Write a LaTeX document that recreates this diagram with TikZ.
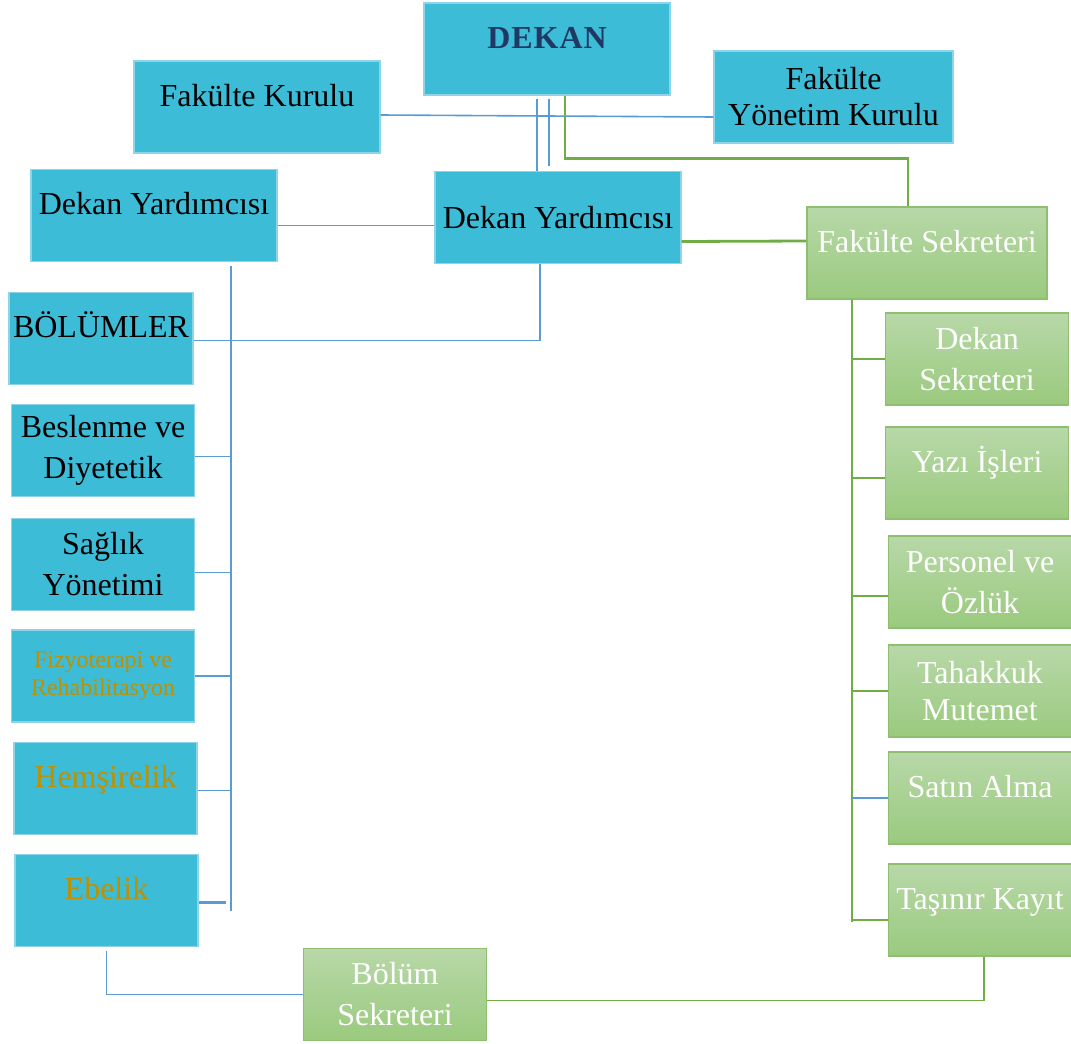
\documentclass[tikz,border=0pt]{standalone}
\usepackage{fontspec}
\setmainfont{Liberation Serif}
\usepackage{xcolor}
\usepackage{tikz}
\definecolor{cfill}{HTML}{3DBCD8}
\definecolor{cedge}{HTML}{8FD3E8}
\definecolor{gtop}{HTML}{B8D8A8}
\definecolor{gbot}{HTML}{9ACA7E}
\definecolor{gedge}{HTML}{8CC070}
\definecolor{lblue}{HTML}{5B9BD5}
\definecolor{lgreen}{HTML}{70AD47}
\definecolor{gold}{HTML}{BF9000}
\definecolor{navy}{HTML}{1F3864}
\tikzset{
  cbox/.style={draw=cedge, fill=cfill, line width=0.6pt, inner sep=2pt, minimum height=46pt, align=center, font=\fontsize{16}{20.5}\selectfont},
  gbox/.style={draw=gedge, top color=gtop, bottom color=gbot, line width=0.8pt, inner sep=2pt, minimum height=46pt, align=center, text=white, font=\fontsize{16}{20.5}\selectfont},
  wide/.style={minimum width=123pt},
  narrow/.style={minimum width=91.5pt},
  uptext/.style={text height=11pt, text depth=12pt},
  bline/.style={draw=lblue, line width=0.8pt},
  bthick/.style={draw=lblue, line width=1.3pt},
  gline/.style={draw=lgreen, line width=1.4pt},
  gstub/.style={draw=lgreen, line width=1pt},
  gthin/.style={draw=lgreen, line width=0.7pt},
}
\begin{document}
\begin{tikzpicture}[x=0.5pt,y=-0.5pt]
  \useasboundingbox (0,0) rectangle (1071,1044);
  % top
  \node[cbox,wide,uptext,text=navy,font=\fontsize{16}{20.5}\selectfont\bfseries\addfontfeature{LetterSpace=3}] (dekan) at (547,49) {DEKAN};
  \node[cbox,wide,uptext] (fk) at (257,107) {Fakülte Kurulu};
  \node[cbox,minimum width=119.5pt,font=\fontsize{16}{18}\selectfont] (fyk) at (833.5,97) {Fakülte\\Yönetim Kurulu};
  \node[cbox,wide,uptext] (dyl) at (154,215.5) {Dekan Yardımcısı};
  \node[cbox,wide] (dym) at (558,217.5) {Dekan Yardımcısı};
  \node[gbox,minimum width=120pt,uptext] (fs) at (927,253) {Fakülte Sekreteri};
  % bolumler
  \node[cbox,narrow,uptext] (bol) at (101,338.5) {BÖLÜMLER};
  \node[cbox,narrow] (bes) at (103,450.5) {Beslenme ve\\Diyetetik};
  \node[cbox,narrow] (sag) at (103,564.5) {Sağlık\\Yönetimi};
  \node[cbox,narrow,text=gold,font=\fontsize{12}{14}\selectfont] (fiz) at (103,676) {Fizyoterapi ve\\Rehabilitasyon};
  \node[cbox,narrow,uptext,text=gold] (hem) at (105.5,788.5) {Hemşirelik};
  \node[cbox,narrow,uptext,text=gold] (ebe) at (106.5,900.5) {Ebelik};
  % sekreterlik
  \node[gbox,narrow] (ds) at (977,359) {Dekan\\Sekreteri};
  \node[gbox,narrow,uptext] (yi) at (977,473) {Yazı İşleri};
  \node[gbox,narrow] (po) at (980,582) {Personel ve\\Özlük};
  \node[gbox,narrow,font=\fontsize{16}{18.5}\selectfont] (tm) at (980,691) {Tahakkuk\\Mutemet};
  \node[gbox,narrow,uptext] (sa) at (980,798) {Satın Alma};
  \node[gbox,narrow,uptext] (tk) at (980,910) {Taşınır Kayıt};
  \node[gbox,narrow] (bs) at (395,994.5) {Bölüm\\Sekreteri};

  % links
  \draw[bline] ([yshift=-4pt]fk.east) -- ([yshift=-10pt]fyk.west);
  \coordinate (dv1) at ([xshift=-5pt,yshift=-1.5pt]dekan.south);
  \coordinate (dv2) at ([xshift=1pt,yshift=-1.5pt]dekan.south);
  \draw[bthick] (dv1) -- (dv1 |- dym.north);
  \draw[bthick] (dv2) -- ++(0,67);
  \draw[gline] ([xshift=9pt]dekan.south) -- ++(0,63) -| ([xshift=-9.5pt]fs.north);
  \draw[bline] ([yshift=-5pt]dyl.east) -- ([yshift=-4pt]dym.west);
  \draw[gline] ([yshift=-12pt]dym.east) -- ([yshift=6pt]fs.west);
  \draw[bline] ([xshift=-9pt]dym.south) |- ([yshift=-1pt]bol.east);

  \coordinate (ltop) at ([xshift=38.5pt,yshift=-2pt]dyl.south);
  \draw[bline] (ltop) -- ++(0,645);
  \foreach \bx/\dy in {bes/-3pt, sag/-4pt, fiz/0pt, hem/-1pt}
    {\draw[bline] ([yshift=\dy]\bx.east) coordinate (t) -- (t -| ltop);}
  \draw[bthick] ([yshift=-1pt]ebe.east) coordinate (t) -- ([xshift=-2.5pt]t -| ltop);
  \draw[bline] ([yshift=-2pt]ebe.south) |- (bs.west);
  \draw[gthin] ([yshift=-3pt]bs.east) -| ([xshift=2pt]tk.south);

  \coordinate (rtop) at ([xshift=-37.5pt]fs.south);
  \draw[gline] (rtop) -- ++(0,622);
  \foreach \bx/\dy in {ds/0pt, yi/-2.5pt, po/-7pt, tm/0pt, tk/-5pt}
    {\draw[gstub] ([yshift=\dy]\bx.west) coordinate (t) -- (t -| rtop);}
  \draw[bline] (sa.west) coordinate (t) -- (t -| rtop);
\end{tikzpicture}
\end{document}
